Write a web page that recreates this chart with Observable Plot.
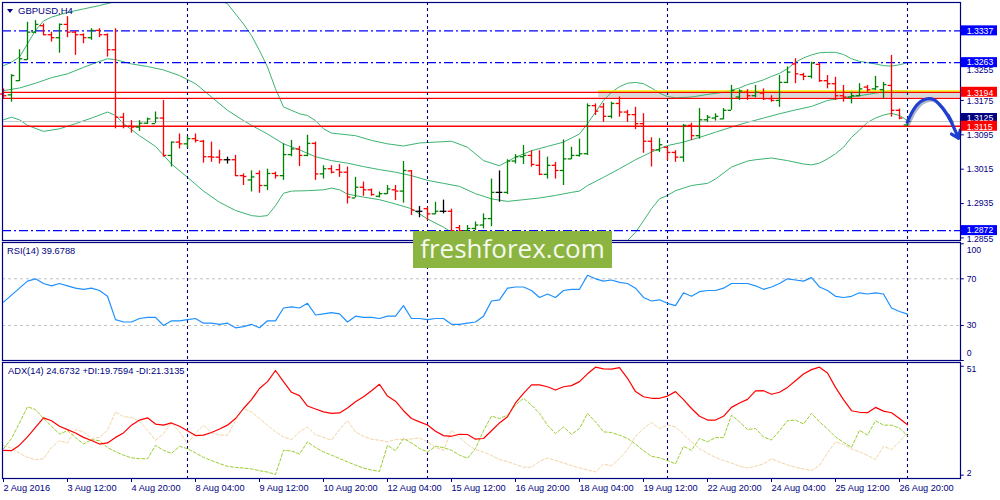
<!DOCTYPE html>
<html>
<head>
<meta charset="utf-8">
<script src="https://cdn.jsdelivr.net/npm/d3@7"></script>
<script src="https://cdn.jsdelivr.net/npm/@observablehq/plot@0.6"></script>
<style>
body { margin: 0; background: #fff; }
#chart { position: relative; width: 1000px; height: 500px; overflow: hidden; font-family: "Liberation Sans", Arial, sans-serif; }
#chart svg { position: absolute; left: 0; }
.lbl { position: absolute; color: #000080; font-family: "Liberation Sans", Arial, sans-serif; line-height: 1; white-space: nowrap; }
.tri { position: absolute; left: 7px; top: 9px; width: 0; height: 0; border-left: 3.5px solid transparent; border-right: 3.5px solid transparent; border-top: 4px solid #000080; }
.wm { position: absolute; left: 413px; top: 231px; width: 199px; height: 37px; background: #8cb441; color: #f6f9ee; font: 26px "Open Sans", sans-serif; text-align: center; line-height: 35px; }
</style>
</head>
<body>
<div id="chart"></div>
<script>
// GBPUSD H4 bars, 2 Aug 04:00 .. 29 Aug 00:00
const open = [1.3190,1.3188,1.3221,1.3270,1.3334,1.3349,1.3328,1.3321,1.3352,1.3334,
  1.3328,1.3321,1.3338,1.3328,1.3293,1.3136,1.3115,1.3113,1.3122,1.3121,
  1.3134,1.3047,1.3078,1.3074,1.3086,1.3080,1.3044,1.3043,1.3037,1.3037,
  1.3000,1.2990,1.3005,1.2977,1.3005,1.3000,1.3049,1.3062,1.3047,1.3075,
  1.3004,1.3016,1.3014,1.3008,1.2948,1.2973,1.2967,1.2952,1.2958,1.2967,
  1.2964,1.3011,1.2917,1.2923,1.2911,1.2917,1.2917,1.2879,1.2872,1.2877,
  1.2885,1.2900,1.2961,1.2961,1.3034,1.3044,1.3047,1.3024,1.3003,1.3024,
  1.3012,1.3039,1.3047,1.3051,1.3163,1.3160,1.3138,1.3168,1.3148,1.3142,
  1.3121,1.3080,1.3060,1.3066,1.3054,1.3043,1.3117,1.3093,1.3130,1.3134,
  1.3132,1.3152,1.3183,1.3194,1.3186,1.3192,1.3179,1.3175,1.3217,1.3260,
  1.3235,1.3231,1.3259,1.3221,1.3214,1.3186,1.3183,1.3186,1.3206,1.3202,
  1.3200,1.3210,1.3152,1.3118];
const high = [1.3202,1.3235,1.3293,1.3357,1.3361,1.3353,1.3334,1.3353,1.3370,1.3336,
  1.3330,1.3342,1.3342,1.3330,1.3342,1.3145,1.3128,1.3128,1.3134,1.3148,
  1.3175,1.3078,1.3097,1.3091,1.3097,1.3082,1.3078,1.3059,1.3043,1.3047,
  1.3004,1.3011,1.3011,1.3015,1.3008,1.3074,1.3082,1.3068,1.3094,1.3078,
  1.3023,1.3023,1.3026,1.3020,1.2996,1.2985,1.2969,1.2962,1.2977,1.2977,
  1.3033,1.3012,1.2928,1.2926,1.2938,1.2943,1.2922,1.2884,1.2884,1.2892,
  1.2911,1.2992,1.3011,1.3037,1.3049,1.3070,1.3058,1.3058,1.3043,1.3031,
  1.3083,1.3066,1.3085,1.3167,1.3167,1.3168,1.3171,1.3183,1.3152,1.3159,
  1.3144,1.3088,1.3086,1.3066,1.3058,1.3119,1.3122,1.3156,1.3140,1.3144,
  1.3156,1.3210,1.3200,1.3200,1.3210,1.3202,1.3186,1.3233,1.3253,1.3272,
  1.3238,1.3264,1.3262,1.3233,1.3229,1.3210,1.3194,1.3214,1.3210,1.3231,
  1.3217,1.3280,1.3155,1.3130];
const low = [1.3179,1.3171,1.3219,1.3268,1.3330,1.3326,1.3311,1.3285,1.3321,1.3280,
  1.3307,1.3315,1.3321,1.3276,1.3109,1.3109,1.3099,1.3103,1.3119,1.3121,
  1.3043,1.3020,1.3062,1.3064,1.3076,1.3029,1.3031,1.3027,1.3027,1.2998,
  1.2977,1.2962,1.2959,1.2965,1.2992,1.2989,1.3044,1.3021,1.3044,1.2989,
  1.2992,1.3004,1.2996,1.2934,1.2948,1.2952,1.2952,1.2948,1.2956,1.2942,
  1.2936,1.2907,1.2902,1.2895,1.2909,1.2911,1.2864,1.2864,1.2868,1.2872,
  1.2876,1.2881,1.2938,1.2956,1.3027,1.3026,1.3020,1.3000,1.2992,1.2992,
  1.2977,1.3037,1.3043,1.3047,1.3140,1.3124,1.3132,1.3136,1.3124,1.3107,
  1.3052,1.3020,1.3054,1.3035,1.3031,1.3031,1.3082,1.3085,1.3124,1.3127,
  1.3130,1.3152,1.3175,1.3175,1.3181,1.3175,1.3171,1.3159,1.3214,1.3214,
  1.3221,1.3225,1.3217,1.3202,1.3175,1.3171,1.3167,1.3183,1.3194,1.3198,
  1.3179,1.3136,1.3130,1.3114];
const close = [1.3186,1.3233,1.3272,1.3334,1.3352,1.3328,1.3321,1.3352,1.3334,1.3328,
  1.3321,1.3338,1.3328,1.3293,1.3136,1.3115,1.3113,1.3122,1.3132,1.3134,
  1.3047,1.3078,1.3074,1.3086,1.3082,1.3044,1.3043,1.3037,1.3037,1.3000,
  1.2998,1.2997,1.2977,1.3005,1.3000,1.3049,1.3062,1.3047,1.3075,1.3004,
  1.3016,1.3008,1.3008,1.2950,1.2973,1.2967,1.2956,1.2958,1.2969,1.2964,
  1.3012,1.2920,1.2917,1.2911,1.2917,1.2917,1.2872,1.2872,1.2877,1.2885,
  1.2900,1.2961,1.2961,1.3034,1.3044,1.3047,1.3026,1.3003,1.3024,1.3012,
  1.3039,1.3047,1.3051,1.3163,1.3150,1.3138,1.3168,1.3148,1.3142,1.3121,
  1.3080,1.3060,1.3072,1.3054,1.3043,1.3117,1.3093,1.3130,1.3136,1.3138,
  1.3152,1.3198,1.3197,1.3186,1.3194,1.3179,1.3175,1.3217,1.3241,1.3237,
  1.3231,1.3262,1.3221,1.3214,1.3186,1.3183,1.3186,1.3202,1.3200,1.3207,
  1.3212,1.3152,1.3134,1.3126];

// Bollinger bands: [bar, price]
const bbUpper = [[0,1.3256],[1,1.3264],[2,1.3276],[3,1.3307],[4,1.3338],[5,1.3360],[6,1.3369],[8,1.3380],[10,1.3388],[12,1.3396],[14,1.3405],[17,1.3425],[20,1.3440],[23,1.3435],[26,1.3418],[28,1.3400],[30,1.3353],[31,1.3326],[32,1.3291],[33,1.3253],[34,1.3202],[35,1.3160],[36,1.3152],[37,1.3144],[38,1.3140],[39,1.3128],[40,1.3109],[41,1.3099],[42,1.3097],[44,1.3093],[46,1.3082],[48,1.3074],[50,1.3069],[52,1.3076],[54,1.3078],[56,1.3080],[58,1.3066],[60,1.3035],[62,1.3023],[64,1.3043],[66,1.3058],[68,1.3068],[70,1.3078],[72,1.3097],[73,1.3121],[74,1.3148],[75,1.3175],[76,1.3194],[77,1.3207],[78,1.3215],[79,1.3217],[80,1.3214],[81,1.3204],[82,1.3192],[83,1.3184],[84,1.3181],[86,1.3183],[88,1.3189],[90,1.3194],[92,1.3204],[93,1.3212],[94,1.3217],[95,1.3223],[96,1.3231],[97,1.3238],[98,1.3249],[99,1.3264],[100,1.3274],[101,1.3281],[102,1.3286],[103,1.3287],[104,1.3287],[105,1.3282],[106,1.3272],[107,1.3266],[108,1.3263],[109,1.3260],[110,1.3256],[111,1.3255],[112,1.3258],[113,1.3263]];
const bbMiddle = [[0,1.3198],[2,1.3204],[4,1.3215],[6,1.3228],[8,1.3237],[10,1.3252],[12,1.3266],[13,1.3272],[14,1.3270],[16,1.3260],[18,1.3254],[20,1.3246],[22,1.3233],[24,1.3214],[26,1.3183],[28,1.3152],[30,1.3128],[31,1.3117],[33,1.3097],[35,1.3074],[37,1.3060],[39,1.3044],[41,1.3035],[43,1.3029],[45,1.3021],[47,1.3014],[49,1.3008],[51,1.3000],[53,1.2989],[55,1.2982],[57,1.2975],[59,1.2958],[61,1.2946],[63,1.2940],[65,1.2944],[67,1.2948],[69,1.2954],[71,1.2961],[72,1.2964],[73,1.2977],[75,1.2996],[77,1.3016],[79,1.3037],[81,1.3055],[83,1.3070],[85,1.3078],[87,1.3089],[89,1.3101],[91,1.3113],[93,1.3124],[95,1.3134],[97,1.3144],[99,1.3153],[101,1.3161],[103,1.3175],[105,1.3181],[107,1.3186],[109,1.3192],[111,1.3198],[113,1.3197]];
const bbLower = [[0,1.3130],[1,1.3136],[2,1.3130],[3,1.3117],[5,1.3103],[7,1.3109],[9,1.3121],[11,1.3134],[13,1.3148],[14,1.3140],[15,1.3121],[17,1.3093],[19,1.3068],[21,1.3027],[23,1.2996],[25,1.2964],[27,1.2938],[29,1.2919],[31,1.2907],[32,1.2905],[33,1.2907],[34,1.2930],[35,1.2959],[36,1.2964],[38,1.2965],[40,1.2967],[41,1.2971],[42,1.2967],[43,1.2957],[45,1.2950],[47,1.2944],[49,1.2934],[51,1.2923],[53,1.2899],[55,1.2880],[56,1.2868],[57,1.2845],[60,1.2815],[64,1.2800],[68,1.2792],[72,1.2795],[76,1.2825],[78,1.2849],[79,1.2868],[80,1.2895],[81,1.2923],[82,1.2946],[83,1.2954],[84,1.2965],[86,1.2977],[88,1.2982],[89,1.2992],[91,1.3020],[93,1.3034],[94,1.3037],[96,1.3041],[98,1.3035],[100,1.3027],[101,1.3025],[102,1.3029],[103,1.3039],[104,1.3051],[105,1.3066],[106,1.3089],[107,1.3106],[108,1.3124],[109,1.3134],[110,1.3141],[111,1.3145],[112,1.3140],[113,1.3128]];

const rsi = [50,56,62,68,70,66,64,66,64,62,
  61,62,60,55,35,33,33,36,37,37,
  30,34,34,35,36,32,32,31,32,28,
  29,31,28,34,34,45,46,45,49,39,
  40,41,40,33,38,37,37,36,38,38,
  47,36,36,35,36,36,31,31,32,33,
  38,51,52,62,63,63,60,54,57,54,
  60,61,61,73,70,68,69,67,66,62,
  54,51,52,49,47,58,55,59,60,60,
  62,66,66,66,64,61,63,66,70,69,
  68,71,63,60,55,54,55,58,57,58,
  57,45,42,39.68];
const adx = [13.2,13,15.5,19.2,23.5,27.8,26.5,24,22.5,21,
  19,17.6,16,16.5,19,21,24.5,26.8,27.8,25,
  24.5,25.5,24,22,19.8,20,21.2,22.8,24.5,27.5,
  32,36,41,44.1,49.1,44.1,39.3,37.8,33.1,31.8,
  30.5,29.8,30,32.2,35,37.3,40,42.9,37.6,35.3,
  31,27.5,26,24.6,21.8,19.8,19.5,20.4,20.3,18.2,
  18.5,22,25.5,28.3,34.5,38.8,42.6,42.6,41.8,40.3,
  41.8,42.3,44.1,47.6,50.6,49.8,49.7,50.4,45.6,39.6,
  37.3,36.6,36.6,37.6,39.6,36,32,28.5,26.8,26.8,
  28.5,32.5,34.5,36.1,39.9,40,38.4,39.3,41.5,44.5,
  47.5,49.5,50.6,48,41.5,36,31,30.3,30.1,32.5,
  30.8,30.1,27.5,24.67];
const plusDI = [13.9,18.5,25.5,32.8,31.5,27.5,24,20.5,22,19,
  16,18,17.5,14.4,12.6,11,9.8,9.4,9.4,15.4,
  13.2,11.8,15,13.9,12,10,8.6,7.2,6,5.5,
  5.2,4.8,4,3.4,2.3,13.2,12.9,11.5,17,14.4,
  12.5,11,9.5,8,6.5,5.2,4.3,3.7,15.4,13,
  18.5,16.5,14,12.4,15,14.4,13.2,11,9.6,14,
  22,28.6,27.5,29,33.5,36.6,33.5,29.8,24.5,20.7,
  23.7,20.4,23,29.8,26,21.5,21.2,20,18.5,16,
  13,10.5,9.8,8.6,7.1,15,13.2,18.5,17,18.9,
  18.9,29,26,22.5,23,19.2,17.8,22,26.5,26.8,
  25,29.8,26,22.8,19.2,16.8,14.5,22.2,20,26.5,
  24.5,24.5,23.2,19.76];
const minusDI = [15.4,14.2,11.9,10,9,9.4,14.4,17.5,16.5,22.5,
  21.5,18.5,19,22.2,30.5,28.3,28,26.2,22.2,17.7,
  20.7,25.5,21.5,16.2,21,24.5,21,20,20,26.5,
  32,30.5,27.5,24.5,21.5,19.2,18,21.5,23.7,20.2,
  19,17.8,22.5,26.5,21.5,19.5,18.2,17.7,17,18,
  18,18.3,18.8,17,14.5,13.2,22.2,18.9,15.8,13.5,
  12.4,10.9,9,8.2,6.8,5.6,5.6,8.2,9.7,8.6,
  7.5,6.3,5.3,4.4,3.4,7,6.2,9.5,13.5,19.5,
  23,25.7,23,24.5,23.7,20.5,17,13.9,11.8,10,
  8.6,7.5,6,5.2,6,7.1,9.4,7.9,6.6,5.6,
  4.8,4.1,6.4,12,17,15.8,13.8,12.5,10.9,9,
  15,13.5,17,21.31];

const xTickBars = [0,8,16,24,32,40,48,56,64,72,80,88,96,104,112];
const xTickLabels = ["2 Aug 2016","3 Aug 12:00","4 Aug 20:00","8 Aug 04:00","9 Aug 12:00","10 Aug 20:00",
  "12 Aug 04:00","15 Aug 12:00","16 Aug 20:00","18 Aug 04:00","19 Aug 12:00","22 Aug 20:00",
  "24 Aug 04:00","25 Aug 12:00","26 Aug 20:00"];
const weekSeparators = [23, 53, 83, 113];

const priceTicks = [1.2855, 1.2935, 1.3015, 1.3095, 1.3175, 1.3255, 1.3335];
const blueLevels = [1.3337, 1.3263, 1.2872];
const redLevels = [1.3194, 1.3180, 1.3115];
const redLabels = [1.3194, 1.3115];
const bidPrice = 1.3126;
const zoneTop = 1.3198, zoneBottom = 1.3181, zoneStart = 74.4;

const arrowBar = [112.96, 113.8, 114.6, 115.5, 116.3, 117.3, 118.4];
const arrowPrice = [1.3124, 1.3155, 1.3172, 1.3179, 1.3177, 1.3159, 1.3128];
const arrowTip = [119.4, 1.3087];

const rsiLevels = [30, 70];

// ---------------------------------------------------------------
const bars = open.map((o, i) => ({
  i, o, h: high[i], l: low[i], c: close[i],
  col: close[i] > o ? "#008000" : close[i] < o ? "#ff0000" : "#000000"
}));

const navy = "#000080";
const xDom = [-0.125, 119.625];
const labX = 120.4;      // label column right of the frame
const boxX1 = 119.72, boxX2 = 124.25;
const font = "Liberation Sans, Arial, sans-serif";
const sty = {background: "transparent", fontFamily: font, overflow: "visible"};
// labels that sit half under a level box get nudged down a bit
const tickNudge = {"1.2855": 1.5, "1.3175": 1.2, "1.3255": 4.5};

const seps = () => Plot.ruleX(weekSeparators, {stroke: navy, strokeWidth: 1.1, strokeDasharray: "3,3"});

// main price panel
const pPerPx = (1.3403 - 1.2849) / 238;
const bh = 5 * pPerPx;

const main = Plot.plot({
  width: 1000, height: 242,
  marginLeft: 2, marginRight: 40, marginTop: 2, marginBottom: 2,
  x: {domain: xDom, axis: null},
  y: {domain: [1.2849, 1.3403], axis: null},
  color: {type: "identity"},
  style: sty,
  marks: [
    Plot.rect([0], {x1: zoneStart, x2: 119.6, y1: zoneBottom, y2: zoneTop, fill: "#8a8a8a", fillOpacity: 0.32}),
    Plot.line(bbUpper, {x: d => d[0], y: d => d[1], stroke: "#3cb371", strokeWidth: 1, clip: true}),
    Plot.line(bbMiddle, {x: d => d[0], y: d => d[1], stroke: "#3cb371", strokeWidth: 1, clip: true}),
    Plot.line(bbLower, {x: d => d[0], y: d => d[1], stroke: "#3cb371", strokeWidth: 1, clip: true}),
    Plot.ruleY([bidPrice], {stroke: "#c8c8c8", strokeWidth: 1.2}),
    Plot.ruleY(blueLevels, {stroke: "#0000ff", strokeWidth: 1.3, strokeDasharray: "9,3,2,3"}),
    Plot.ruleY([zoneTop - 0.0001], {x1: zoneStart, x2: 119.6, stroke: "#ffff00", strokeWidth: 1.5}),
    Plot.ruleY(redLevels, {stroke: "#ff0000", strokeWidth: 1.3}),
    seps(),
    Plot.ruleX(bars, {x: "i", y1: "l", y2: "h", stroke: "col", strokeWidth: 1.3}),
    Plot.ruleY(bars, {y: "o", x1: d => d.i - 0.42, x2: "i", stroke: "col", strokeWidth: 1.3}),
    Plot.ruleY(bars, {y: "c", x1: "i", x2: d => d.i + 0.42, stroke: "col", strokeWidth: 1.3}),
    // forecast arrow
    Plot.line(arrowBar.map((b, k) => [b, arrowPrice[k]]), {x: d => d[0], y: d => d[1], curve: "catmull-rom", stroke: "#1b2a66", strokeOpacity: 0.35, strokeWidth: 3.5, dx: 1.5, dy: 1.5}),
    Plot.line(arrowBar.map((b, k) => [b, arrowPrice[k]]), {x: d => d[0], y: d => d[1], curve: "catmull-rom", stroke: "#1f3fd2", strokeWidth: 3.2}),
    Plot.arrow([0], {x1: arrowBar[6] - 0.3, y1: arrowPrice[6] + 0.0012, x2: arrowTip[0], y2: arrowTip[1], stroke: "#1f3fd2", strokeWidth: 3.2, headLength: 12, headAngle: 70}),
    Plot.frame({stroke: navy, strokeWidth: 1.2}),
    // right price scale
    Plot.ruleY(priceTicks, {x1: 119.625, x2: 120.1, stroke: navy}),
    Plot.text(priceTicks, {x: labX, y: d => d + (tickNudge[d.toFixed(4)] || 0) * -pPerPx, text: d => d.toFixed(4), textAnchor: "start", fill: navy, fontSize: 8.7}),
    Plot.rect([bidPrice], {x1: boxX1, x2: boxX2, y1: d => d - bh, y2: d => d + bh, dy: -3, fill: navy}),
    Plot.text([bidPrice], {x: labX, y: d => d, dy: -3.5, text: d => "1.3125", textAnchor: "start", fill: "#fff", fontSize: 8.7}),
    Plot.rect(blueLevels, {x1: boxX1, x2: boxX2, y1: d => d - bh, y2: d => d + bh, fill: "#0000ff"}),
    Plot.text(blueLevels, {x: labX, y: d => d, text: d => d.toFixed(4), textAnchor: "start", fill: "#fff", fontSize: 8.7}),
    Plot.rect(redLabels, {x1: boxX1, x2: boxX2, y1: d => d - bh, y2: d => d + bh, fill: "#ff0000"}),
    Plot.text(redLabels, {x: labX, y: d => d, dy: 0.5, text: d => d.toFixed(4), textAnchor: "start", fill: "#fff", fontSize: 8.7})
  ]
});
main.style.top = "0px";

// RSI panel
const rsiPlot = Plot.plot({
  width: 1000, height: 122,
  marginLeft: 2, marginRight: 40, marginTop: 2, marginBottom: 2,
  x: {domain: xDom, axis: null},
  y: {domain: [0, 100], range: [120, 3.3], axis: null},
  style: sty,
  marks: [
    Plot.ruleY(rsiLevels, {stroke: "#c0c0c0", strokeDasharray: "3,3"}),
    seps(),
    Plot.line(rsi, {x: (d, i) => i, y: d => d, stroke: "#1e90ff", strokeWidth: 1.2}),
    Plot.frame({stroke: navy, strokeWidth: 1.2}),
    Plot.ruleY([0, 30, 70, 100], {x1: 119.625, x2: 120.1, stroke: navy}),
    Plot.text(["100"], {x: labX, y: 100, text: d => d, dy: 6.5, textAnchor: "start", fill: navy, fontSize: 8.7}),
    Plot.text(["70", "30"], {x: labX, y: d => +d, text: d => d, textAnchor: "start", fill: navy, fontSize: 8.7}),
    Plot.text(["0"], {x: labX, y: 0, text: d => d, dy: -7, textAnchor: "start", fill: navy, fontSize: 8.7})
  ]
});
rsiPlot.style.top = "240px";

// ADX panel with the time axis
const adxPlot = Plot.plot({
  width: 1000, height: 140,
  marginLeft: 2, marginRight: 40, marginTop: 2, marginBottom: 22,
  x: {domain: xDom, axis: null},
  y: {domain: [0.5, 52.7], axis: null},
  style: sty,
  marks: [
    seps(),
    Plot.line(minusDI, {x: (d, i) => i, y: d => d, stroke: "#f2d4a4", strokeWidth: 1, strokeDasharray: "3,2"}),
    Plot.line(plusDI, {x: (d, i) => i, y: d => d, stroke: "#9acd32", strokeWidth: 1, strokeDasharray: "3,2"}),
    Plot.line(adx, {x: (d, i) => i, y: d => d, stroke: "#ff0000", strokeWidth: 1.2}),
    Plot.frame({stroke: navy, strokeWidth: 1.2}),
    Plot.ruleY([2, 51], {x1: 119.625, x2: 120.1, stroke: navy}),
    Plot.text(["51"], {x: labX, y: 51, text: d => d, dy: 3, textAnchor: "start", fill: navy, fontSize: 8.7}),
    Plot.text(["2"], {x: labX, y: 2, text: d => d, dy: -2, textAnchor: "start", fill: navy, fontSize: 8.7}),
    Plot.ruleX(xTickBars, {y1: 0.5, y2: -1.3, stroke: navy}),
    Plot.text(xTickBars, {x: d => d, y: 0.5, text: (d, k) => xTickLabels[k], dy: 9.5, textAnchor: "start", fill: navy, fontSize: 9.2})
  ]
});
adxPlot.style.top = "360px";

const root = document.getElementById("chart");
root.append(main, rsiPlot, adxPlot);
root.insertAdjacentHTML("beforeend",
  '<div class="tri"></div>' +
  '<div class="lbl" style="left:18px;top:6px;font-size:9.5px">GBPUSD,H4</div>' +
  '<div class="lbl" style="left:7px;top:246.5px;font-size:9.3px">RSI(14) 39.6788</div>' +
  '<div class="lbl" style="left:8px;top:367px;font-size:9.3px">ADX(14) 24.6732 +DI:19.7594 -DI:21.3135</div>' +
  '<div class="wm">freshforex.com</div>');
</script>
</body>
</html>
